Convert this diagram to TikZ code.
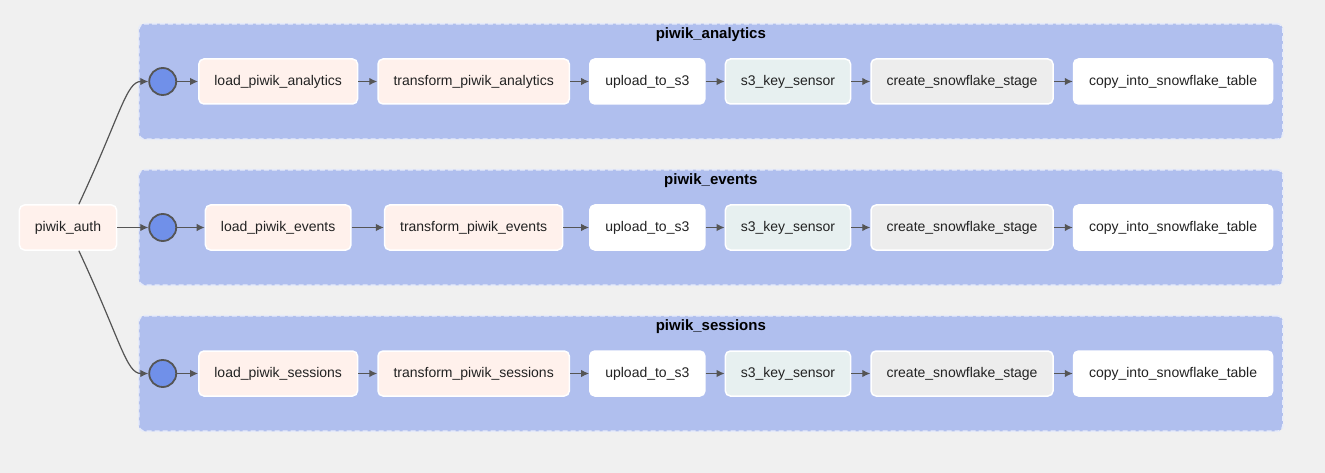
\documentclass[tikz,border=0pt]{standalone}
\usepackage{fontspec}
\setmainfont{Liberation Sans}
\usetikzlibrary{positioning, fit, backgrounds, arrows.meta}
\definecolor{pagebg}{HTML}{F0F0F0}
\definecolor{groupfill}{HTML}{B0BFEE}
\definecolor{groupborder}{HTML}{E6EBFA}
\definecolor{joinfill}{HTML}{7090E9}
\definecolor{joinborder}{HTML}{555555}
\definecolor{loadfill}{HTML}{FFF1EC}
\definecolor{sensorfill}{HTML}{E7F0F0}
\definecolor{stagefill}{HTML}{EDEDED}
\definecolor{textdark}{HTML}{222222}
\definecolor{arrowgray}{HTML}{555555}
\tikzstyle{task} = [rectangle, 
rounded corners=5pt, 
minimum height=45pt, 
inner xsep=15.5pt, 
text centered, 
draw=white, 
line width=1.5pt, 
fill=white, 
text=textdark, 
font=\fontsize{14}{16}\selectfont]
\tikzstyle{taskload} = [task, 
fill=loadfill]
\tikzstyle{tasksensor} = [task, 
fill=sensorfill]
\tikzstyle{taskstage} = [task, 
fill=stagefill]
\tikzstyle{joinpoint} = [circle, 
minimum size=27pt, 
inner sep=0pt, 
draw=joinborder, 
line width=1.8pt, 
fill=joinfill]
\tikzstyle{taskgroup} = [rectangle, 
rounded corners=6pt, 
draw=groupborder, 
dash pattern=on 5pt off 3pt, 
line width=1.6pt, 
fill=groupfill, 
inner xsep=9.5pt, 
inner ysep=34.5pt]
\tikzstyle{grouptitle} = [font=\bfseries\fontsize{15}{17}\selectfont, 
text=black]
\tikzstyle{arrow} = [draw=arrowgray, 
line width=1.2pt, 
->, 
>={Latex[length=8pt,width=7.5pt]}]
\begin{document}
\begin{tikzpicture}[node distance=146pt]

			\node (auth) [taskload] at (68pt,-227.5pt) {piwik\_auth};
			
			\node (join2) [joinpoint, right=31pt of auth] {};
			\node (join1) [joinpoint, above of=join2] {};
			\node (join3) [joinpoint, below of=join2] {};
			
			\node (load1) [taskload, right=21pt of join1] {load\_piwik\_analytics};
			\node (trans1) [taskload, right=19pt of load1] {transform\_piwik\_analytics};
			\node (up1) [task, right=19pt of trans1] {upload\_to\_s3};
			\node (sens1) [tasksensor, right=19pt of up1] {s3\_key\_sensor};
			\node (stage1) [taskstage, right=19pt of sens1] {create\_snowflake\_stage};
			\node (copy1) [task, right=19pt of stage1] {copy\_into\_snowflake\_table};
			
			\node (load2) [taskload, below of=load1] {load\_piwik\_events};
			\node (trans2) [taskload, below of=trans1] {transform\_piwik\_events};
			\node (up2) [task, below of=up1] {upload\_to\_s3};
			\node (sens2) [tasksensor, below of=sens1] {s3\_key\_sensor};
			\node (stage2) [taskstage, below of=stage1] {create\_snowflake\_stage};
			\node (copy2) [task, below of=copy1] {copy\_into\_snowflake\_table};
			
			\node (load3) [taskload, below of=load2] {load\_piwik\_sessions};
			\node (trans3) [taskload, below of=trans2] {transform\_piwik\_sessions};
			\node (up3) [task, below of=up2] {upload\_to\_s3};
			\node (sens3) [tasksensor, below of=sens2] {s3\_key\_sensor};
			\node (stage3) [taskstage, below of=stage2] {create\_snowflake\_stage};
			\node (copy3) [task, below of=copy2] {copy\_into\_snowflake\_table};
			
			\begin{scope}[on background layer]
			\fill [pagebg] (0,0) rectangle (1325pt,-473pt);
			\node (group1) [taskgroup, fit=(join1)(copy1)] {};
			\node (group2) [taskgroup, fit=(join2)(copy2)] {};
			\node (group3) [taskgroup, fit=(join3)(copy3)] {};
			\end{scope}
			
			\node (title1) [grouptitle] at ([yshift=-11.5pt]group1.north) {piwik\_analytics};
			\node (title2) [grouptitle] at ([yshift=-11.5pt]group2.north) {piwik\_events};
			\node (title3) [grouptitle] at ([yshift=-11.5pt]group3.north) {piwik\_sessions};
			
			\draw [arrow] (auth) to[out=65, in=180, out looseness=1.8, in looseness=0.4] (join1);
			\draw [arrow] (auth) -- (join2);
			\draw [arrow] (auth) to[out=-65, in=180, out looseness=1.8, in looseness=0.4] (join3);
			
			\draw [arrow] (join1) -- (load1);
			\draw [arrow] (load1) -- (trans1);
			\draw [arrow] (trans1) -- (up1);
			\draw [arrow] (up1) -- (sens1);
			\draw [arrow] (sens1) -- (stage1);
			\draw [arrow] (stage1) -- (copy1);
			
			\draw [arrow] (join2) -- (load2);
			\draw [arrow] (load2) -- (trans2);
			\draw [arrow] (trans2) -- (up2);
			\draw [arrow] (up2) -- (sens2);
			\draw [arrow] (sens2) -- (stage2);
			\draw [arrow] (stage2) -- (copy2);
			
			\draw [arrow] (join3) -- (load3);
			\draw [arrow] (load3) -- (trans3);
			\draw [arrow] (trans3) -- (up3);
			\draw [arrow] (up3) -- (sens3);
			\draw [arrow] (sens3) -- (stage3);
			\draw [arrow] (stage3) -- (copy3);
			
\end{tikzpicture}
\end{document}
